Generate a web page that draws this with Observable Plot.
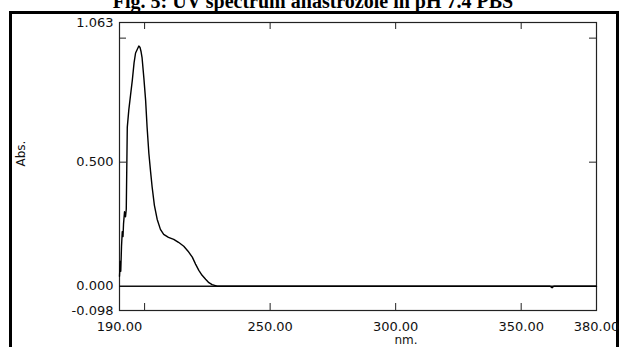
<!DOCTYPE html>
<html>
<head>
<meta charset="utf-8">
<script src="https://cdn.jsdelivr.net/npm/d3@7"></script>
<script src="https://cdn.jsdelivr.net/npm/@observablehq/plot@0.6"></script>
<style>
  html, body { margin: 0; padding: 0; background: #fff; }
  #wrap { position: relative; width: 620px; height: 347px; overflow: hidden; background: #fff; }
  #title { position: absolute; left: 0; top: -9px; width: 626px; text-align: center;
           font: bold 20px "Liberation Serif", "Times New Roman", serif; line-height: 20px; color: #000; white-space: nowrap; }
  #border { position: absolute; left: 9px; top: 11px; width: 604px; height: 400px; border: 3px solid #000; }
  #chart { position: absolute; left: 0; top: 0; }
</style>
</head>
<body>
<div id="wrap">
  <div id="title">Fig. 5: UV spectrum anastrozole in pH 7.4 PBS</div>
  <div id="border"></div>
  <div id="chart"></div>
</div>
<script>
// Spectrum
const wavelength = [190.0, 190.3, 190.5, 190.8, 191.1, 191.4, 191.6, 192.0, 192.4, 192.7, 193.1, 193.7, 194.4, 195.1, 195.8, 196.4, 197.1, 197.7, 198.2, 198.6, 199.0, 199.7, 200.4, 201.0, 201.7, 202.4, 203.0, 203.9, 205.0, 206.3, 207.6, 209.5, 211.6, 213.5, 215.6, 217.3, 219.0, 220.3, 221.6, 222.9, 224.3, 225.6, 226.9, 228.9, 240, 260, 280, 300, 320, 340, 360, 361.5, 362.3, 363, 380];
const absorbance = [0.04, 0.10, 0.06, 0.16, 0.22, 0.20, 0.25, 0.30, 0.28, 0.31, 0.64, 0.71, 0.77, 0.83, 0.90, 0.94, 0.955, 0.968, 0.962, 0.945, 0.92, 0.84, 0.75, 0.64, 0.535, 0.46, 0.40, 0.326, 0.27, 0.229, 0.209, 0.197, 0.189, 0.177, 0.161, 0.141, 0.117, 0.089, 0.064, 0.044, 0.028, 0.014, 0.006, 0, 0, 0, 0, 0, 0, 0, 0, 0, -0.006, 0, 0];

const xDomain = [190, 380];
const yDomain = [-0.098, 1.063];
const xTickLabels = [190, 250, 300, 350, 380];
const xTickMarks = [200, 250, 300, 350];
const yTickLabels = [-0.098, 0, 0.5, 1.063];
const yTickMarks = [0.5, 1.0];
const xTitle = "nm.";
const yTitle = "Abs.";

const data = wavelength.map((w, i) => ({w, a: absorbance[i]}));

const W = 620, H = 347;
const mL = 119, mR = 24, mT = 22, mB = 37;
const innerW = W - mL - mR, innerH = H - mT - mB;
const tick = 7;

const chart = Plot.plot({
  width: W, height: H,
  marginLeft: mL, marginRight: mR, marginTop: mT, marginBottom: mB,
  style: {fontFamily: "DejaVu Sans", fontSize: "13px", color: "#111", background: "transparent", overflow: "visible"},
  x: {domain: xDomain},
  y: {domain: yDomain},
  marks: [
    Plot.frame({stroke: "#222", strokeWidth: 1.2}),
    // inner ticks
    Plot.ruleX(xTickMarks, {x: d => d, insetTop: innerH - tick, stroke: "#222"}),
    Plot.ruleX(xTickMarks, {x: d => d, insetBottom: innerH - tick, stroke: "#222"}),
    Plot.ruleY(yTickMarks, {y: d => d, insetRight: innerW - tick, stroke: "#222"}),
    Plot.ruleY(yTickMarks, {y: d => d, insetLeft: innerW - tick, stroke: "#222"}),
    Plot.ruleY([0], {stroke: "#111", strokeWidth: 1.4}),
    Plot.axisX({ticks: xTickLabels, tickSize: 0, tickPadding: 11, tickFormat: d => d.toFixed(2), label: null, fontSize: 13}),
    Plot.axisY({ticks: yTickLabels, tickSize: 0, tickPadding: 6, tickFormat: d => d.toFixed(3), label: null, fontSize: 13}),
    Plot.text([yTitle], {frameAnchor: "left", dx: -98, rotate: -90, fontSize: 12, fill: "#111"}),
    Plot.text([xTitle], {frameAnchor: "bottom", dx: 48, dy: 33, fontSize: 12, fill: "#111"}),
    Plot.line(data, {x: "w", y: "a", stroke: "#000", strokeWidth: 1.4})
  ]
});
document.getElementById("chart").appendChild(chart);
</script>
</body>
</html>
